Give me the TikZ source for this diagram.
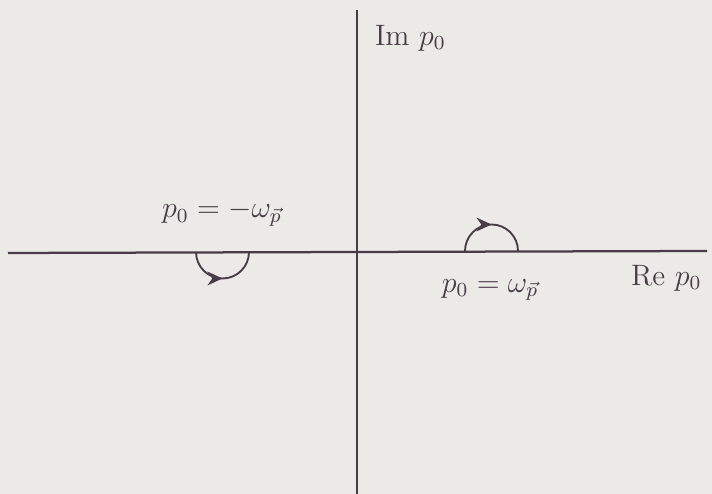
\documentclass[tikz,border=0pt]{standalone}
\usepackage{xcolor}
\usepackage{amsmath}
\usetikzlibrary{positioning, arrows.meta, decorations.markings, calc}

\definecolor{ink}{HTML}{4A3A4A}
\definecolor{paper}{HTML}{EBEAE6}

\begin{document}
\begin{tikzpicture}[x=0.01405cm, y=0.01405cm, >=Stealth,
        axis/.style={draw=ink, line width=0.9pt},
        detour/.style={draw=ink, line width=0.75pt, postaction={decorate},
            decoration={markings, mark=at position 0.5 with {\arrow[ink]{Stealth[length=6pt,width=5.5pt]}}}},
        every node/.style={text=ink, inner sep=1pt, font=\fontsize{11.8}{14}\selectfont}]
        \fill[paper] (0,0) rectangle (712,494);
        \useasboundingbox (0,0) rectangle (712,494);

        % axes
        \coordinate (re0) at (8,241);
        \coordinate (re1) at (707,243);
        \coordinate (im0) at (357,0);
        \coordinate (im1) at (357,484);
        \draw[axis] (re0) -- (re1);
        \draw[axis] (im0) -- (im1);

        \node[anchor=west] (im) at (372,456) {Im $p_0$};
        \node[anchor=west] (re) at (628,216) {Re $p_0$};

        % poles
        \coordinate (pminus) at (222.5,242);
        \coordinate (pplus) at (491.5,243);
        \draw[detour] ($(pminus)+(-26.5,0)$) arc[start angle=180, end angle=360, radius=26.5];
        \draw[detour] ($(pplus)+(-26.5,0)$) arc[start angle=180, end angle=0, radius=26.5];

        \node (lminus) at (222,281) {$p_0 = -\omega_{\vec p}$};
        \node (lplus) at (490,204) {$p_0 = \omega_{\vec p}$};
    \end{tikzpicture}
\end{document}
